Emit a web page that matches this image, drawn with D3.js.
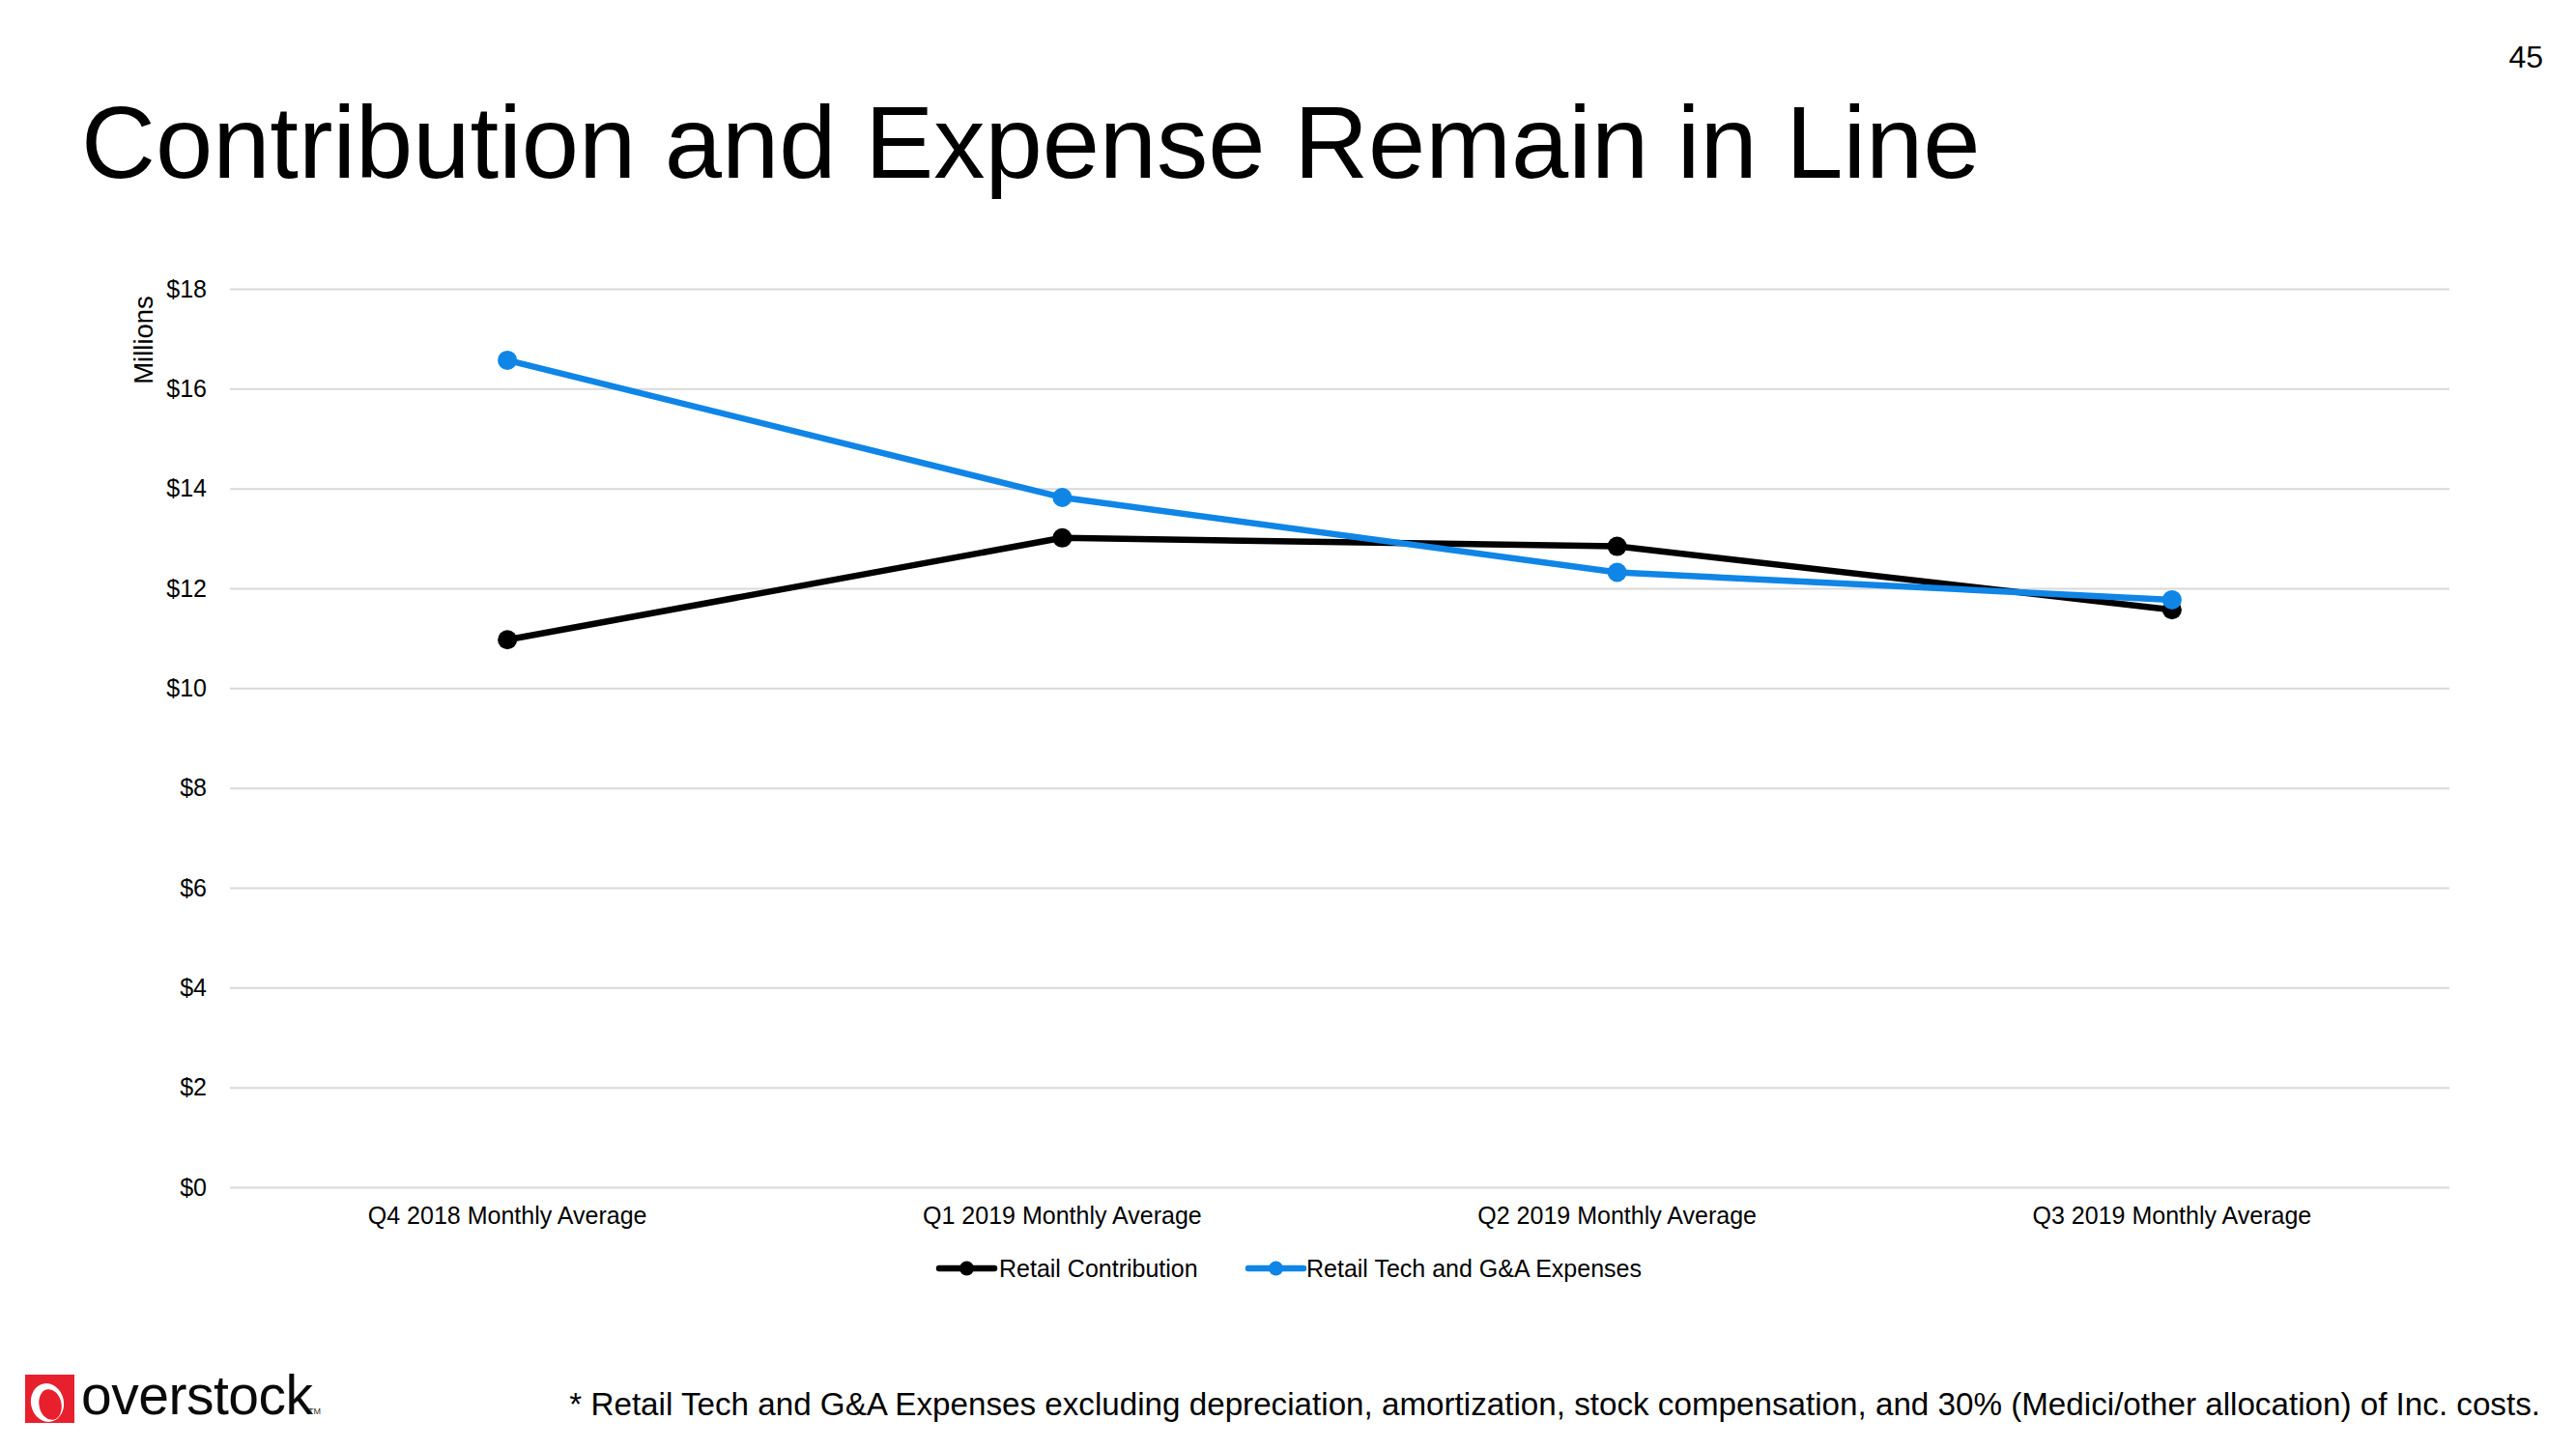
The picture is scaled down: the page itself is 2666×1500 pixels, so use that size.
<!DOCTYPE html>
<html>
<head>
<meta charset="utf-8">
<script src="https://cdn.jsdelivr.net/npm/d3@7"></script>
<style>
  html, body { margin: 0; padding: 0; background: #fff; }
  svg { display: block; font-family: "Liberation Sans", Arial, sans-serif; }
</style>
</head>
<body>
<svg id="chart" width="2666" height="1500"></svg>
<script>
const categories = ["Q4 2018 Monthly Average", "Q1 2019 Monthly Average", "Q2 2019 Monthly Average", "Q3 2019 Monthly Average"];
const retailContribution = [10.97, 13.01, 12.84, 11.57];
const retailTechGA = [16.57, 13.82, 12.32, 11.77];
const yTicks = [0, 2, 4, 6, 8, 10, 12, 14, 16, 18];
const seriesNames = ["Retail Contribution", "Retail Tech and G&A Expenses"];
const seriesColors = ["#000000", "#0F85E6"];

(function () {
const svg = d3.select("#chart");
const W = 2666, H = 1500;
svg.append("rect").attr("width", W).attr("height", H).attr("fill", "#fff");

// Title & page number
svg.append("text").attr("x", 84).attr("y", 184)
  .attr("font-size", 106.5).attr("fill", "#000")
  .text("Contribution and Expense Remain in Line");
svg.append("text").attr("x", 2632).attr("y", 70).attr("text-anchor", "end")
  .attr("font-size", 32).attr("fill", "#000").text("45");

const pLeft = 238, pRight = 2535, pTop = 299, pBottom = 1229;
const x = d3.scaleBand().domain(categories).range([pLeft, pRight]).padding(0);
const y = d3.scaleLinear().domain([0, 18]).range([pBottom, pTop]);
const cx = d => x(d) + x.bandwidth() / 2;

// Y axis with gridlines
const yAxis = svg.append("g").attr("transform", `translate(${pLeft},0)`)
  .call(d3.axisLeft(y).tickValues(yTicks).tickSize(-(pRight - pLeft)).tickPadding(24)
    .tickFormat(d => "$" + d));
yAxis.select(".domain").remove();
yAxis.selectAll(".tick line").attr("stroke", "#d9d9d9").attr("stroke-width", 2);
yAxis.selectAll(".tick text").attr("font-size", 25).attr("fill", "#000")
  .attr("font-family", "Liberation Sans, Arial, sans-serif");

// X axis labels
const xAxis = svg.append("g").attr("transform", `translate(0,${pBottom})`)
  .call(d3.axisBottom(x).tickSize(0).tickPadding(20));
xAxis.select(".domain").remove();
xAxis.selectAll(".tick text").attr("font-size", 25).attr("fill", "#000")
  .attr("font-family", "Liberation Sans, Arial, sans-serif");

// Y axis title
svg.append("text").attr("transform", `translate(158,352) rotate(-90)`)
  .attr("text-anchor", "middle").attr("font-size", 27.5).attr("fill", "#000").text("Millions");

// Lines
const seriesData = [retailContribution, retailTechGA];
const line = d3.line().x((d, i) => cx(categories[i])).y(d => y(d));
seriesData.forEach((vals, s) => {
  svg.append("path").datum(vals).attr("d", line)
    .attr("fill", "none").attr("stroke", seriesColors[s]).attr("stroke-width", 6.5)
    .attr("stroke-linejoin", "round");
  svg.selectAll(null).data(vals).enter().append("circle")
    .attr("cx", (d, i) => cx(categories[i])).attr("cy", d => y(d))
    .attr("r", 10).attr("fill", seriesColors[s]);
});

// Legend
const legendY = 1313;
const legendItems = [
  { x1: 972, x2: 1029, tx: 1034 },
  { x1: 1292, x2: 1349, tx: 1352 }
];
legendItems.forEach((li, s) => {
  const g = svg.append("g");
  g.append("line").attr("x1", li.x1).attr("x2", li.x2).attr("y1", legendY).attr("y2", legendY)
    .attr("stroke", seriesColors[s]).attr("stroke-width", 6.5).attr("stroke-linecap", "round");
  g.append("circle").attr("cx", (li.x1 + li.x2) / 2).attr("cy", legendY).attr("r", 7.5).attr("fill", seriesColors[s]);
  g.append("text").attr("x", li.tx).attr("y", legendY).attr("dy", "0.35em")
    .attr("font-size", 25).attr("fill", "#000").text(seriesNames[s]);
});

// Footnote
svg.append("text").attr("x", 2629).attr("y", 1465).attr("text-anchor", "end")
  .attr("font-size", 33.2).attr("fill", "#000")
  .text("* Retail Tech and G&A Expenses excluding depreciation, amortization, stock compensation, and 30% (Medici/other allocation) of Inc. costs.");

// Logo
const logo = svg.append("g");
logo.append("rect").attr("x", 26).attr("y", 1423).attr("width", 51).attr("height", 50).attr("fill", "#E8202E");
logo.append("ellipse").attr("cx", 49).attr("cy", 1452).attr("rx", 17).attr("ry", 20)
  .attr("transform", "rotate(-12 49 1452)").attr("fill", "#fff");
logo.append("ellipse").attr("cx", 52).attr("cy", 1454).attr("rx", 11.5).attr("ry", 16)
  .attr("transform", "rotate(-12 52 1454)").attr("fill", "#E8202E");
logo.append("text").attr("x", 84).attr("y", 1464).attr("font-size", 57).attr("fill", "#0a0a0a")
  .attr("letter-spacing", -0.5).text("overstock");
logo.append("text").attr("x", 319).attr("y", 1464).attr("font-size", 9).attr("fill", "#333").text("TM");
})();
</script>
</body>
</html>
